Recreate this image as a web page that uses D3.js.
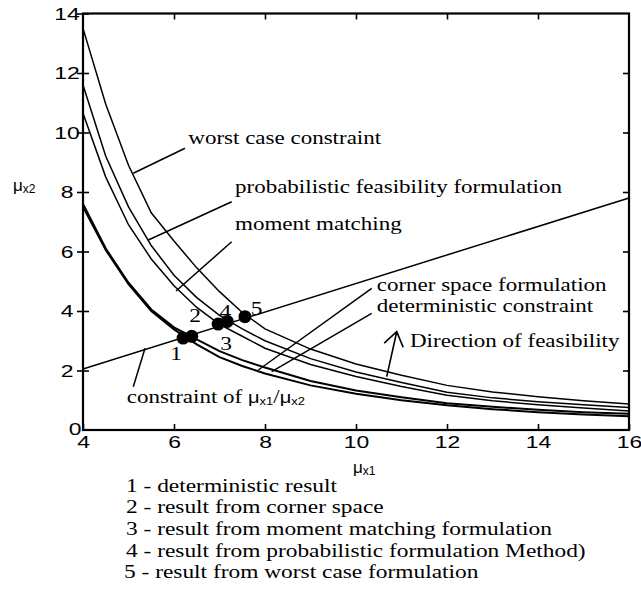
<!DOCTYPE html>
<html>
<head>
<meta charset="utf-8">
<script src="https://cdn.jsdelivr.net/npm/d3@7"></script>
<style>
body { margin: 0; background: #fff; }
</style>
</head>
<body>
<div id="chart"></div>
<script>
// mu_x1 sample points for every constraint curve
var xs = [4, 4.5, 5, 5.5, 6, 6.5, 7, 7.5, 8, 9, 10, 11, 12, 13, 14, 15, 16];
var worstCase = [13.5, 10.95, 8.9, 7.3, 6.35, 5.45, 4.65, 3.95, 3.4, 2.72, 2.22, 1.84, 1.5, 1.28, 1.12, 0.98, 0.87];
var probabilistic = [11.6, 9.2, 7.5, 6.2, 5.2, 4.45, 3.85, 3.4, 3.0, 2.4, 1.95, 1.6, 1.27, 1.08, 0.95, 0.85, 0.76];
var momentMatching = [10.65, 8.5, 6.9, 5.75, 4.85, 4.12, 3.55, 3.15, 2.75, 2.2, 1.8, 1.46, 1.17, 0.98, 0.85, 0.74, 0.64];
var cornerSpace = [7.6, 6.1, 4.95, 4.05, 3.45, 3.05, 2.65, 2.35, 2.1, 1.65, 1.33, 1.1, 0.9, 0.78, 0.68, 0.6, 0.55];
var deterministic = [7.5, 6.05, 4.9, 4.0, 3.38, 2.88, 2.45, 2.15, 1.9, 1.5, 1.22, 1.0, 0.83, 0.7, 0.6, 0.52, 0.46];

// constraint of mu_x1 / mu_x2 (straight line)
var ratioX = [4, 16];
var ratioY = [2.05, 7.8];

// optimum results 1..5
var resultX = [6.2, 6.39, 6.97, 7.17, 7.56];
var resultY = [3.09, 3.15, 3.56, 3.65, 3.81];
var resultLabels = ['1', '2', '3', '4', '5'];

var xTicks = [4, 6, 8, 10, 12, 14, 16];
var yTicks = [0, 2, 4, 6, 8, 10, 12, 14];

var legendLines = [
    '1 - deterministic result',
    '2 - result from corner space',
    '3 - result from moment matching formulation',
    '4 - result from probabilistic formulation Method)',
    '5 - result from worst case formulation'
];

var margin = {top: 13.5, left: 83};
var width = 546, height = 416.5;
var serif = 'Liberation Serif, Times New Roman, serif';
var sans = 'Liberation Sans, Arial, sans-serif';

var svg = d3.select('#chart')
    .append('svg')
    .attr('width', 641)
    .attr('height', 600)
    .style('background', '#fff');

var graph = svg.append('g')
    .attr('transform', 'translate(' + margin.left + ', ' + margin.top + ')');

var xS = d3.scaleLinear().domain([4, 16]).range([0, width]);
var yS = d3.scaleLinear().domain([0, 14]).range([height, 0]);

// text is a bit wider than normal in the original, so stretch it sideways
function label(parent, x, y, str, size, family, sx, anchor) {
    return parent.append('text')
        .attr('transform', 'translate(' + x + ',' + y + ') scale(' + sx + ',1)')
        .attr('font-family', family)
        .attr('font-size', size)
        .attr('text-anchor', anchor || 'start')
        .attr('fill', '#000')
        .text(str);
}

// axes
var bottom = graph.append('g')
    .attr('transform', 'translate(0, ' + height + ')')
    .call(d3.axisBottom(xS).tickValues(xTicks).tickSize(-6));
bottom.selectAll('text')
    .attr('y', 0).attr('dy', null)
    .attr('transform', 'translate(0,18) scale(1.35,1)');

var left = graph.append('g')
    .call(d3.axisLeft(yS).tickValues(yTicks).tickSize(6));
left.selectAll('.tick line').attr('x1', 6);
left.selectAll('text')
    .attr('x', 0).attr('dy', '0.35em')
    .attr('text-anchor', 'middle')
    .attr('transform', function (d) {
        return d === 0 ? 'translate(-8,-1) scale(1.35,1)' : 'translate(-16,0) scale(1.35,1)';
    });
left.selectAll('.tick').filter(function (d) { return d === 0; }).select('line').remove();

graph.append('g')
    .call(d3.axisTop(xS).tickValues(xTicks.slice(1, -1)).tickSize(-6).tickFormat(''));
graph.append('g')
    .attr('transform', 'translate(' + width + ', 0)')
    .call(d3.axisRight(yS).tickValues(yTicks.slice(1, -1)).tickSize(-6).tickFormat(''));

graph.selectAll('.domain').remove();
graph.selectAll('.tick line').attr('stroke', '#000').attr('stroke-width', 1.6);
graph.selectAll('.tick text')
    .attr('font-family', sans)
    .attr('font-size', 17)
    .attr('fill', '#000');

graph.append('rect')
    .attr('width', width)
    .attr('height', height)
    .attr('fill', 'none')
    .attr('stroke', '#000')
    .attr('stroke-width', 2.2);

// curves
var line = d3.line()
    .x(function (d, i) { return xS(xs[i]); })
    .y(function (d) { return yS(d); });

var curves = [
    {v: worstCase, w: 1.5},
    {v: probabilistic, w: 1.5},
    {v: momentMatching, w: 1.5},
    {v: cornerSpace, w: 2},
    {v: deterministic, w: 2}
];
graph.selectAll('path.curve')
    .data(curves)
    .enter()
    .append('path')
    .attr('class', 'curve')
    .attr('d', function (d) { return line(d.v); })
    .attr('fill', 'none')
    .attr('stroke', '#000')
    .attr('stroke-width', function (d) { return d.w; });

graph.append('line')
    .attr('x1', xS(ratioX[0])).attr('y1', yS(ratioY[0]))
    .attr('x2', xS(ratioX[1])).attr('y2', yS(ratioY[1]))
    .attr('stroke', '#000')
    .attr('stroke-width', 1.5);

// leader lines, in data units
var leaders = [
    [6.242, 9.469, 5.105, 8.629],
    [7.268, 7.674, 5.435, 6.387],
    [7.268, 6.329, 6.044, 4.672],
    [10.345, 4.763, 7.853, 2.017],
    [10.345, 3.923, 8.147, 1.960],
    [5.105, 1.455, 5.363, 2.746]
];
graph.selectAll('line.leader')
    .data(leaders)
    .enter()
    .append('line')
    .attr('class', 'leader')
    .attr('x1', function (d) { return xS(d[0]); })
    .attr('y1', function (d) { return yS(d[1]); })
    .attr('x2', function (d) { return xS(d[2]); })
    .attr('y2', function (d) { return yS(d[3]); })
    .attr('stroke', '#000')
    .attr('stroke-width', 1.5);

// direction of feasibility arrow
var ax0 = xS(10.675), ay0 = yS(1.792), ax1 = xS(10.895), ay1 = yS(3.304);
var ang = Math.atan2(ay0 - ay1, ax0 - ax1);
var wing = 17, spread = 35 * Math.PI / 180;
graph.append('path')
    .attr('d', 'M' + ax0 + ',' + ay0 + 'L' + ax1 + ',' + ay1 +
        'M' + (ax1 + wing * Math.cos(ang - spread)) + ',' + (ay1 + wing * Math.sin(ang - spread)) +
        'L' + ax1 + ',' + ay1 +
        'L' + (ax1 + wing * Math.cos(ang + spread)) + ',' + (ay1 + wing * Math.sin(ang + spread)))
    .attr('fill', 'none')
    .attr('stroke', '#000')
    .attr('stroke-width', 1.6);

// result points
graph.selectAll('circle')
    .data(resultX)
    .enter()
    .append('circle')
    .attr('cx', function (d) { return xS(d); })
    .attr('cy', function (d, i) { return yS(resultY[i]); })
    .attr('r', 6.5)
    .attr('fill', '#000');

var labelOffset = [[-7, 22], [3.3, -14.6], [8, 26], [-2, -3], [11.7, -1.7]];
resultLabels.forEach(function (t, i) {
    label(graph, xS(resultX[i]) + labelOffset[i][0], yS(resultY[i]) + labelOffset[i][1], t, 19.5, serif, 1.2, 'middle');
});

// curve annotations
var notes = [
    [6.314, 9.613, 'worst case constraint'],
    [7.341, 7.983, 'probabilistic feasibility formulation'],
    [7.341, 6.723, 'moment matching'],
    [10.455, 4.672, 'corner space formulation'],
    [10.455, 3.966, 'deterministic constraint'],
    [11.187, 2.790, 'Direction of feasibility']
];
notes.forEach(function (n) {
    label(graph, xS(n[0]), yS(n[1]), n[2], 19.5, serif, 1.18);
});

var ratioText = label(graph, xS(4.96), yS(0.908), 'constraint of ', 19.5, serif, 1.18);
ratioText.append('tspan').attr('font-family', sans).attr('font-size', 17).text('\u03bc');
ratioText.append('tspan').attr('font-family', sans).attr('font-size', 11).attr('dy', 2).text('x1');
ratioText.append('tspan').attr('dy', -2).text('/');
ratioText.append('tspan').attr('font-family', sans).attr('font-size', 17).text('\u03bc');
ratioText.append('tspan').attr('font-family', sans).attr('font-size', 11).attr('dy', 2).text('x2');

// axis titles
var yTitle = label(svg, 13, 191, '\u03bc', 17, sans, 1);
yTitle.append('tspan').attr('font-size', 12).attr('dy', 2).text('x2');
var xTitle = label(svg, 353, 473, '\u03bc', 17, sans, 1);
xTitle.append('tspan').attr('font-size', 12).attr('dy', 2).text('x1');

// legend below the chart
svg.selectAll('text.legend')
    .data(legendLines)
    .enter()
    .append('text')
    .attr('class', 'legend')
    .attr('transform', function (d, i) {
        return 'translate(' + (i === 4 ? 124 : 126) + ',' + (491.7 + i * 21.65) + ') scale(1.2,1)';
    })
    .attr('font-family', serif)
    .attr('font-size', 19.5)
    .attr('fill', '#000')
    .text(function (d) { return d; });
</script>
</body>
</html>
